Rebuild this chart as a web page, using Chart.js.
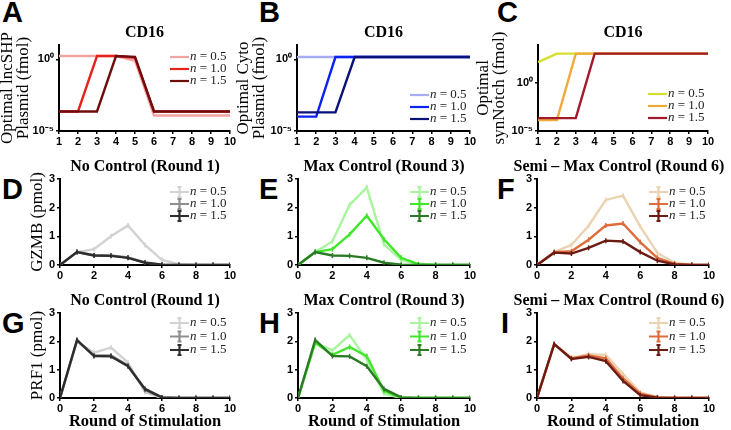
<!DOCTYPE html>
<html>
<head>
<meta charset="utf-8">
<script src="https://cdn.jsdelivr.net/npm/chart.js@4.4.0/dist/chart.umd.min.js"></script>
<style>
  body { margin: 0; background: #fff; }
  #wrap { position: relative; width: 731px; height: 430px; overflow: hidden; }
  #wrap canvas { position: absolute; }
  .tag { position: absolute; font: bold 29px "Liberation Sans", Arial, sans-serif; line-height: 29px; color: #000; }
</style>
</head>
<body>
<div id="wrap">
  <div class="tag" style="left:2px;top:-2px">A</div>
  <div class="tag" style="left:259px;top:-2px">B</div>
  <div class="tag" style="left:497px;top:-2px">C</div>
  <div class="tag" style="left:2px;top:175px">D</div>
  <div class="tag" style="left:259px;top:175px">E</div>
  <div class="tag" style="left:497px;top:175px">F</div>
  <div class="tag" style="left:2px;top:309px">G</div>
  <div class="tag" style="left:259px;top:309px">H</div>
  <div class="tag" style="left:501px;top:309px">I</div>
</div>
<script>
// x values
var roundsCD16 = [1, 2, 3, 4, 5, 6, 7, 8, 9, 10];
var rounds = [0, 1, 2, 3, 4, 5, 6, 7, 8, 9, 10];
var nValues = ["0.5", "1.0", "1.5"];

// top row, optimal plasmid amounts (fmol, log scale)
var lncSHP_05 = [1.7, 1.7, 1.7, 1.7, 0.8, 1.2e-4, 1.2e-4, 1.2e-4, 1.2e-4, 1.2e-4];
var lncSHP_10 = [2.3e-4, 2.3e-4, 1.7, 1.7, 1.3, 2.3e-4, 2.3e-4, 2.3e-4, 2.3e-4, 2.3e-4];
var lncSHP_15 = [2.3e-4, 2.3e-4, 2.3e-4, 1.7, 1.5, 2.3e-4, 2.3e-4, 2.3e-4, 2.3e-4, 2.3e-4];

var cyto_05 = [1.45, 1.45, 1.45, 1.45, 1.45, 1.45, 1.45, 1.45, 1.45, 1.45];
var cyto_10 = [1.0e-4, 1.0e-4, 1.45, 1.45, 1.45, 1.45, 1.45, 1.45, 1.45, 1.45];
var cyto_15 = [2.0e-4, 2.0e-4, 2.0e-4, 1.45, 1.45, 1.45, 1.45, 1.45, 1.45, 1.45];

var synNotch_05 = [160, 1250, 1250, 1250, 1250, 1250, 1250, 1250, 1250, 1250];
var synNotch_10 = [1.4e-4, 1.4e-4, 1250, 1250, 1250, 1250, 1250, 1250, 1250, 1250];
var synNotch_15 = [2.2e-4, 2.2e-4, 2.2e-4, 1250, 1250, 1250, 1250, 1250, 1250, 1250];

// GZMB (pmol)
var gzmbNo_05 = [0, 0.45, 0.55, 1.0, 1.38, 0.7, 0.18, 0.03, 0, 0, 0];
var gzmbNo_10 = [0, 0.45, 0.34, 0.33, 0.26, 0.09, 0.01, 0, 0, 0, 0];
var gzmbNo_15 = [0, 0.45, 0.33, 0.32, 0.25, 0.08, 0.01, 0, 0, 0, 0];

var gzmbMax_05 = [0, 0.45, 0.82, 2.1, 2.7, 0.72, 0.18, 0.02, 0, 0, 0];
var gzmbMax_10 = [0, 0.45, 0.55, 1.07, 1.72, 0.9, 0.25, 0.03, 0, 0, 0];
var gzmbMax_15 = [0, 0.45, 0.33, 0.32, 0.25, 0.08, 0.01, 0, 0, 0, 0];

var gzmbSemi_05 = [0, 0.45, 0.7, 1.37, 2.27, 2.42, 1.35, 0.42, 0.08, 0.01, 0];
var gzmbSemi_10 = [0, 0.45, 0.48, 0.88, 1.38, 1.45, 0.8, 0.25, 0.04, 0, 0];
var gzmbSemi_15 = [0, 0.43, 0.4, 0.6, 0.85, 0.82, 0.45, 0.15, 0.02, 0, 0];

// PRF1 (pmol)
var prf1No_05 = [0, 2.0, 1.6, 1.78, 1.25, 0.2, 0, 0, 0, 0, 0];
var prf1No_10 = [0, 2.02, 1.5, 1.5, 1.15, 0.28, 0.01, 0, 0, 0, 0];
var prf1No_15 = [0, 2.05, 1.48, 1.47, 1.12, 0.32, 0.02, 0, 0, 0, 0];

var prf1Max_05 = [0, 1.95, 1.68, 2.22, 1.35, 0.15, 0, 0, 0, 0, 0];
var prf1Max_10 = [0, 1.95, 1.52, 1.8, 1.48, 0.25, 0, 0, 0, 0, 0];
var prf1Max_15 = [0, 2.05, 1.48, 1.47, 1.12, 0.32, 0.02, 0, 0, 0, 0];

var prf1Semi_05 = [0, 1.9, 1.42, 1.55, 1.52, 0.85, 0.2, 0.03, 0, 0, 0];
var prf1Semi_10 = [0, 1.9, 1.4, 1.5, 1.4, 0.7, 0.15, 0.02, 0, 0, 0];
var prf1Semi_15 = [0, 1.9, 1.38, 1.45, 1.3, 0.6, 0.1, 0.01, 0, 0, 0];

// colours per panel
var redPal = ["#f4a3a3", "#e5231d", "#6f0c0c"];
var bluePal = ["#a6adf3", "#0a22f2", "#0a1279"];
var synPal = ["#d6df2c", "#f0a93b", "#a3192c"];
var grayPal = ["#d2d2d2", "#8e8e8e", "#2d2d2d"];
var greenPal = ["#a9f59e", "#40e62a", "#2b7a24"];
var brownPal = ["#ebd3b2", "#e06b3b", "#6c1b12"];

var SERIF = '"Liberation Serif", "Times New Roman", serif';
var SANS = '"Liberation Sans", Arial, sans-serif';

function makePanel(p) {
  var padTop = 26, padRight = 22;
  var c = document.createElement("canvas");
  var w = (p.box.r + padRight) - (p.box.l - p.yw);
  var h = padTop + (p.box.b - p.box.t) + p.xh;
  c.width = w; c.height = h;
  c.style.left = (p.box.l - p.yw) + "px";
  c.style.top = (p.box.t - padTop) + "px";
  document.getElementById("wrap").appendChild(c);

  var datasets = p.series.map(function (vals, i) {
    return {
      label: "n = " + nValues[i],
      data: vals.map(function (v, k) { return { x: p.xs[k], y: v }; }),
      borderColor: p.colors[i],
      backgroundColor: p.colors[i],
      borderWidth: 2.4,
      tension: 0,
      order: 2 - i,
      pointStyle: "line",
      pointRotation: 90,
      pointRadius: p.errorBars ? 2.5 : 0,
      pointBorderWidth: 1.5,
      pointBorderColor: p.colors[i]
    };
  });

  var decor = {
    id: "decor",
    afterDraw: function (chart) {
      var ctx = chart.ctx, ca = chart.chartArea;
      ctx.save();
      // panel title
      ctx.fillStyle = "#000";
      ctx.font = "bold 16px " + SERIF;
      ctx.textAlign = "center";
      ctx.textBaseline = "middle";
      ctx.fillText(p.title, (ca.left + ca.right) / 2 + (p.titleShift || 0), ca.top - 12);
      // legend
      ctx.textAlign = "left";
      for (var i = 0; i < 3; i++) {
        var y = ca.top + p.legendTop + i * p.legendGap;
        var x0 = ca.right - 60;
        ctx.strokeStyle = p.colors[i];
        ctx.lineWidth = 2.2;
        ctx.beginPath();
        ctx.moveTo(x0, y); ctx.lineTo(x0 + 19, y);
        if (p.errorBars) {
          ctx.moveTo(x0 + 9.5, y - 5); ctx.lineTo(x0 + 9.5, y + 5);
          ctx.moveTo(x0 + 7.5, y - 5); ctx.lineTo(x0 + 11.5, y - 5);
          ctx.moveTo(x0 + 7.5, y + 5); ctx.lineTo(x0 + 11.5, y + 5);
        }
        ctx.stroke();
        ctx.fillStyle = "#222";
        ctx.font = "italic 13px " + SERIF;
        ctx.fillText("n", x0 + 20, y);
        var nw = ctx.measureText("n").width;
        ctx.font = "13px " + SERIF;
        ctx.fillText(" = " + nValues[i], x0 + 20 + nw, y);
      }
      ctx.restore();
    }
  };

  var yScale = {
    type: p.log ? "logarithmic" : "linear",
    min: p.log ? 1e-5 : 0,
    max: p.yMax,
    afterFit: function (s) { s.width = p.yw; },
    border: { display: true, color: "#000", width: 2 },
    grid: { display: true, drawOnChartArea: false, drawTicks: true, tickLength: 3, color: "#000", lineWidth: 1.5 },
    ticks: {
      autoSkip: false,
      padding: 2,
      color: "#000",
      font: { family: SANS, size: 11, weight: "bold" }
    },
    title: {
      display: !!p.yTitle,
      text: p.yTitle,
      color: "#000",
      padding: { top: p.yTitlePad, bottom: 0 },
      font: { family: SERIF, size: 17, lineHeight: "16px" }
    }
  };
  if (p.log) {
    yScale.afterBuildTicks = function (s) { s.ticks = [{ value: 1e-5 }, { value: 1 }]; };
    yScale.ticks.callback = function (v) { return v === 1 ? "10\u2070" : "10\u207B\u2075"; };
  } else {
    yScale.ticks.stepSize = 1;
  }

  return new Chart(c, {
    type: "line",
    data: { datasets: datasets },
    options: {
      responsive: false,
      animation: false,
      devicePixelRatio: 1,
      layout: { padding: { top: padTop, right: padRight, left: 0, bottom: 0 } },
      plugins: { legend: { display: false }, title: { display: false }, tooltip: { enabled: false } },
      scales: {
        x: {
          type: "linear",
          min: p.xs[0],
          max: 10,
          afterFit: function (s) { s.height = p.xh; },
          border: { display: true, color: "#000", width: 2 },
          grid: { display: true, drawOnChartArea: false, drawTicks: true, tickLength: 3, color: "#000", lineWidth: 1.5 },
          ticks: {
            stepSize: p.xStep,
            autoSkip: false,
            maxRotation: 0,
            padding: 1,
            color: "#000",
            font: { family: SANS, size: 11, weight: "bold" }
          },
          title: {
            display: !!p.xTitle,
            text: p.xTitle,
            color: "#000",
            padding: { top: 0, bottom: 0 },
            font: { family: SERIF, size: 16.5, weight: "bold", lineHeight: "16px" }
          }
        },
        y: yScale
      }
    },
    plugins: [decor]
  });
}

var top1 = { xs: roundsCD16, xh: 20, xStep: 1, log: true, errorBars: false, legendGap: 12 };
function ext(base, more) { var o = {}; var k; for (k in base) o[k] = base[k]; for (k in more) o[k] = more[k]; return o; }

makePanel(ext(top1, { box: { l: 59, t: 45, r: 230, b: 131 }, yw: 59, yMax: 10, title: "CD16",
  yTitle: ["Optimal lncSHP", "Plasmid (fmol)"], yTitlePad: 0,
  series: [lncSHP_05, lncSHP_10, lncSHP_15], colors: redPal, legendTop: 12 }));
makePanel(ext(top1, { box: { l: 297, t: 45, r: 470, b: 131 }, yw: 61, yMax: 10, title: "CD16",
  yTitle: ["Optimal Cyto", "Plasmid (fmol)"], yTitlePad: 0,
  series: [cyto_05, cyto_10, cyto_15], colors: bluePal, legendTop: 50 }));
makePanel(ext(top1, { box: { l: 538, t: 45, r: 708, b: 131 }, yw: 62, yMax: 1e4, title: "CD16",
  yTitle: ["Optimal", "synNotch (fmol)"], yTitlePad: 0,
  series: [synNotch_05, synNotch_10, synNotch_15], colors: synPal, legendTop: 49 }));

var mid = { xs: rounds, xh: 20, xStep: 2, log: false, yMax: 3, errorBars: true, legendTop: 13, legendGap: 12, yw: 59, yTitlePad: 29 };
makePanel(ext(mid, { box: { l: 60, t: 179, r: 230, b: 265 }, title: "No Control (Round 1)", yTitle: "GZMB (pmol)",
  series: [gzmbNo_05, gzmbNo_10, gzmbNo_15], colors: grayPal }));
makePanel(ext(mid, { box: { l: 298, t: 179, r: 470, b: 265 }, title: "Max Control (Round 3)", yTitle: "",
  series: [gzmbMax_05, gzmbMax_10, gzmbMax_15], colors: greenPal }));
makePanel(ext(mid, { box: { l: 537, t: 179, r: 709, b: 265 }, title: "Semi \u2013 Max Control (Round 6)", yTitle: "",
  titleShift: -4, series: [gzmbSemi_05, gzmbSemi_10, gzmbSemi_15], colors: brownPal }));

var bot = ext(mid, { xh: 32, legendTop: 10, legendGap: 13.5, xTitle: "Round of Stimulation" });
makePanel(ext(bot, { box: { l: 60, t: 313, r: 230, b: 398 }, title: "No Control (Round 1)", yTitle: "PRF1 (pmol)",
  series: [prf1No_05, prf1No_10, prf1No_15], colors: grayPal }));
makePanel(ext(bot, { box: { l: 298, t: 313, r: 470, b: 398 }, title: "Max Control (Round 3)", yTitle: "",
  series: [prf1Max_05, prf1Max_10, prf1Max_15], colors: greenPal }));
makePanel(ext(bot, { box: { l: 537, t: 313, r: 709, b: 398 }, title: "Semi \u2013 Max Control (Round 6)", yTitle: "",
  titleShift: -4, series: [prf1Semi_05, prf1Semi_10, prf1Semi_15], colors: brownPal }));
</script>
</body>
</html>
